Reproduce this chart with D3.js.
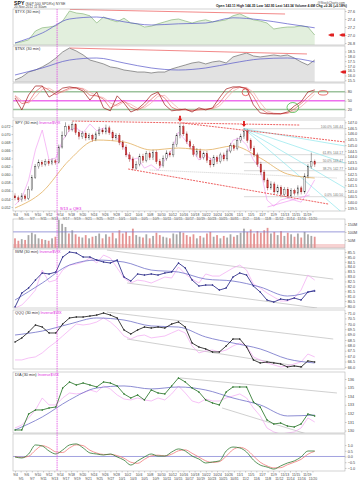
<!DOCTYPE html>
<html><head><meta charset="utf-8">
<script src="https://cdn.jsdelivr.net/npm/d3@7"></script>
<style>body{margin:0;background:#fff}svg{display:block}text{font-family:"Liberation Sans",Arial,sans-serif}</style>
</head><body>
<script>
// ---------------- DATA ----------------
const dates = ["9/4","9/5","9/6","9/7","9/10","9/11","9/12","9/13","9/14","9/17","9/18","9/19","9/20","9/21","9/24","9/25","9/26","9/27","9/28",
"10/1","10/2","10/3","10/4","10/5","10/8","10/9","10/10","10/11","10/12","10/15","10/16","10/17","10/18","10/19","10/22","10/23","10/24","10/25","10/26","10/31",
"11/1","11/2","11/5","11/6","11/7","11/8","11/9","11/12","11/13","11/14","11/15","11/16","11/19","11/20"];
const qe3Index = 12.5;

const spyOpen = [140.57,140.40,140.23,140.57,140.34,141.15,142.19,143.11,143.51,143.34,143.57,143.40,143.63,143.51,144.84,145.87,146.62,146.39,146.79,146.10,
145.76,146.05,145.64,145.87,145.53,145.99,146.33,146.16,146.51,146.10,145.64,145.87,145.24,144.84,144.15,143.80,143.00,143.34,144.03,143.68,
144.26,143.92,144.38,143.57,143.22,143.86,144.32,144.15,145.07,145.82,146.62,145.99,145.30,144.89,144.20,144.49,143.92,144.26,143.68,143.28,
143.92,143.57,144.15,143.80,144.49,144.95,144.72,145.41,145.76,146.22,145.41,144.72,144.15,143.34,142.65,141.96,141.27,141.61,140.92,141.32,
140.69,141.15,140.57,141.04,140.81,141.27,140.92,142.30,143.11,143.57];
const spyHigh = [140.80,140.60,140.82,140.74,141.40,142.40,143.35,143.75,143.70,143.80,143.78,143.85,143.80,145.05,146.20,147.00,146.80,147.05,146.95,146.30,
146.25,146.20,146.05,146.00,146.20,146.60,146.50,146.80,146.70,146.30,146.05,146.05,145.45,145.05,144.40,144.00,143.60,144.25,144.25,144.50,
144.45,144.60,144.55,143.80,144.10,144.55,144.50,145.30,146.05,146.95,146.80,146.20,145.50,145.10,144.75,144.70,144.45,144.50,143.90,144.15,
144.10,144.35,144.35,144.70,145.20,145.15,145.65,146.00,146.50,146.40,145.60,144.95,144.35,143.55,142.85,142.15,141.85,141.80,141.55,141.50,
141.35,141.35,141.25,141.20,141.50,141.45,142.55,143.35,144.35,143.75];
const spyLow = [140.18,140.02,140.06,140.15,140.20,141.00,142.05,142.95,143.10,143.15,143.20,143.25,143.30,143.40,144.70,145.70,146.15,146.20,145.90,145.50,
145.55,145.40,145.45,145.30,145.35,145.80,145.95,145.95,145.90,145.40,145.45,145.00,144.60,143.95,143.55,142.80,142.85,143.15,143.45,143.50,
143.70,143.70,143.35,143.00,143.05,143.65,143.95,143.95,144.85,145.60,145.80,145.10,144.65,144.00,144.00,143.70,143.75,143.45,143.05,143.10,
143.35,143.40,143.60,143.60,144.30,144.50,144.55,145.20,145.55,145.20,144.50,143.95,143.10,142.40,141.75,141.05,141.10,140.70,140.75,140.45,
140.50,140.35,140.40,140.60,140.60,140.70,140.75,142.10,142.95,143.10];
const spyClose = [140.40,140.23,140.57,140.34,141.15,142.19,143.11,143.51,143.34,143.57,143.40,143.63,143.51,144.84,145.87,146.62,146.39,146.79,146.10,145.76,
146.05,145.64,145.87,145.53,145.99,146.33,146.16,146.51,146.10,145.64,145.87,145.24,144.84,144.15,143.80,143.00,143.34,144.03,143.68,144.26,
143.92,144.38,143.57,143.22,143.86,144.32,144.15,145.07,145.82,146.62,145.99,145.30,144.89,144.20,144.49,143.92,144.26,143.68,143.28,143.92,
143.57,144.15,143.80,144.49,144.95,144.72,145.41,145.76,146.22,145.41,144.72,144.15,143.34,142.65,141.96,141.27,141.61,140.92,141.32,140.69,
141.15,140.57,141.04,140.81,141.27,140.92,142.30,143.11,143.57,143.34];
const spyMA = [139.51,140.91,143.71,145.45,145.28,144.58,144.75,144.58,144.93,143.88,142.48,142.13];
const invVixSpy = [0.0525,0.0542,0.0587,0.0661,0.0710,0.0636,0.0641,0.0685,0.0710,0.0715,0.0703,0.0725,0.0708,0.0715,0.0703,0.0690,0.0666,0.0636,0.0641,0.0616,
0.0624,0.0611,0.0636,0.0661,0.0705,0.0685,0.0661,0.0636,0.0648,0.0636,0.0641,0.0648,0.0685,0.0690,0.0673,0.0636,0.0616,0.0537,0.0522,0.0537,
0.0542,0.0537,0.0532,0.0557,0.0587];
const volume = [60,45,55,50,80,95,85,60,55,50,45,60,70,175,150,130,90,110,85,70,65,80,60,70,75,90,60,85,70,95,
60,110,90,100,75,120,80,70,65,85,60,75,95,80,70,65,60,90,85,100,95,80,70,85,60,75,65,90,100,70,
80,60,75,65,85,70,80,95,120,100,115,90,105,95,110,125,90,100,80,105,75,95,85,70,90,65,100,85,75,70];

const tyx = [26.80,26.83,26.88,27.10,27.18,27.20,27.23,27.35,27.60,27.55,27.53,27.48,27.30,27.45,27.38,27.33,27.42,27.30,27.28,27.20,
27.22,27.28,27.33,27.38,27.40,27.35,27.30,27.35,27.38,27.33,27.35,27.38,27.48,27.53,27.45,27.38,27.35,27.30,27.15,27.18,27.20,27.20,27.23,27.20,27.00];
const tyxMA = [26.80,27.05,27.40,27.45,27.33,27.25,27.28,27.30,27.43,27.38,27.28,27.18];
const tnx = [15.53,15.84,16.36,16.57,16.89,17.30,17.82,18.45,18.86,18.55,18.14,17.61,17.41,17.20,16.89,16.78,16.57,16.47,16.36,16.36,
16.26,16.36,16.36,16.68,16.89,17.09,17.30,17.41,17.20,17.41,17.51,17.30,17.93,18.14,18.34,18.03,17.93,18.03,18.14,18.03,18.14,17.82,17.41,17.09,17.61];
const tnxMA = [16.05,16.78,17.61,17.82,17.30,16.78,16.57,16.78,17.30,17.72,17.82,17.41];

const stochK = [59,19,69,99,99,62,76,92,96,92,82,52,79,26,16,66,42,12,22,42,69,79,36,16,19,22,12,26,19,26,59,89,96,96,89,36,9,6,6,6,12,32,46,79,86];
const stochD = [65,40,45,80,98,85,70,82,92,94,88,68,66,55,25,38,50,28,18,32,55,74,58,28,18,20,16,20,22,24,42,72,92,96,92,64,24,9,6,6,9,22,40,62,82];
const stochS = [68,50,42,62,88,92,78,78,88,93,91,78,66,60,42,32,46,38,24,26,42,65,68,44,24,19,18,18,20,22,32,56,82,94,94,78,44,16,8,6,7,15,30,50,72];

const iwm = [79.89,81.32,81.83,82.64,83.36,83.26,83.46,84.99,85.50,85.40,84.99,84.99,84.68,84.48,84.38,84.68,82.95,82.54,83.26,83.15,
83.26,83.15,83.36,83.46,84.38,83.87,82.64,82.03,82.13,82.13,81.62,81.83,82.95,83.36,83.15,82.03,81.42,80.60,80.40,80.70,80.60,80.81,80.60,81.42,81.52];
const iwmMA = [80.60,82.34,84.17,84.68,84.48,83.66,83.46,82.74,82.54,81.93,81.01,81.62];
const iwmVix = [79.79,80.09,80.81,81.62,83.66,82.44,82.64,83.66,84.17,84.28,84.48,84.89,84.38,85.19,84.89,83.87,82.85,82.34,82.64,82.54,
82.34,82.64,82.95,82.85,83.97,83.26,82.74,82.34,83.26,83.05,83.05,83.46,83.87,84.17,83.66,82.23,81.83,81.32,80.91,80.50,80.50,80.81,81.62,83.15,82.64];

const qqq = [68.31,68.69,69.24,69.89,69.70,69.15,69.15,69.98,70.54,70.63,70.63,70.72,70.81,71.00,70.81,70.54,69.43,69.06,69.43,69.70,
69.61,69.70,69.61,69.98,70.17,69.70,68.22,67.85,67.67,67.39,67.39,67.94,68.59,68.59,67.85,66.65,66.37,66.46,66.37,66.28,66.00,66.09,66.00,66.56,66.46];
const qqqMA = [68.96,69.33,69.98,70.54,70.35,69.80,69.70,68.78,68.22,67.67,66.74,66.37];
const qqqVix = [66.65,66.65,66.83,66.93,67.30,67.85,68.31,68.87,69.43,69.98,69.89,69.98,70.17,70.54,70.17,69.61,68.87,68.59,68.87,68.96,
68.69,68.78,68.87,69.15,69.43,69.15,67.94,67.30,67.48,67.57,67.39,67.57,67.94,68.22,67.94,66.93,66.65,66.37,66.19,66.00,66.09,66.28,66.46,67.20,66.93];

const dia = [130.07,130.07,131.93,132.40,132.40,132.63,132.74,134.95,135.65,135.30,135.53,135.30,135.07,135.65,135.53,135.19,134.26,133.79,134.14,133.56,
134.72,134.37,134.26,135.19,136.12,135.65,134.95,134.49,133.56,133.21,132.98,134.49,135.07,135.07,135.07,133.33,132.74,131.23,130.77,130.88,130.53,130.42,130.77,131.93,131.70];
const diaMA = [130.07,131.58,133.56,134.95,135.19,134.84,135.07,134.72,133.79,132.98,131.70,131.81];
const diaVix = [130.30,130.65,131.47,132.40,133.79,132.98,132.98,133.79,134.37,134.26,134.37,134.72,134.49,135.19,134.84,134.14,133.67,133.56,133.79,133.56,
133.44,133.79,133.56,134.26,135.19,134.37,133.44,133.21,133.67,133.44,133.44,133.79,134.02,134.26,133.79,132.63,131.70,130.30,129.84,129.60,129.72,129.84,130.30,131.47,131.00];

const macd = [-0.04,-0.13,0.22,1.01,0.92,0.48,0.22,0.57,1.01,1.10,0.75,0.31,0.22,0.13,0.22,-0.04,-0.31,-0.75,-0.39,-0.04,
0.22,0.04,0.04,0.39,0.66,0.48,0.04,-0.22,-0.57,-0.48,-0.39,0.48,0.83,0.75,0.39,-0.31,-0.75,-0.92,-1.10,-0.83,-0.57,-0.39,-0.04,0.48,0.48];
const macdSignal = [-0.02,-0.08,0.02,0.55,0.95,0.75,0.40,0.35,0.75,1.02,0.95,0.55,0.30,0.18,0.18,0.08,-0.15,-0.50,-0.60,-0.25,
0.05,0.12,0.05,0.20,0.50,0.58,0.28,-0.05,-0.38,-0.52,-0.45,0.02,0.60,0.80,0.60,0.05,-0.50,-0.82,-1.00,-0.98,-0.72,-0.50,-0.25,0.20,0.45];

// annotations (index, value pairs)
const tyxTrend = [16.3,27.64,80.2,27.525];
const tnxTrend = [16.3,18.86,86.7,18.24];
const spyTrends = [[17,147.11,84.6,146.76],[49.6,146.94,98,145.28],[33.6,142.92,93,139.86]];
const spyDotted = [40,142.83,95.6,142.13];
const fanOrigin = [68,146.44];
const fanEnds = [144.93,143.44,141.26,138.9];
const fibPct = [100,61.8,50,38.2,0];
const fibPrice = [146.44,144.17,143.47,142.77,140.50];
const spyMagenta = [75,139.6,87.5,140.65];
const arrowBars = [49,68];
const iwmChannel = [[27.3,85.7,94.5,82.74],[33.3,82.34,89.7,79.79]];
const qqqChannel = [[27.3,71.09,94.5,68.59],[33.3,68.59,85.5,66.0]];
const diaChannel = [[49,136.12,95.6,134.37],[61.5,132.63,87.6,129.49]];

// tick labels
const tyxTicks = [26.8,27.0,27.2,27.4,27.6];
const tnxTicks = [15.5,16.0,16.5,17.0,17.5,18.0,18.5];
const stochTicks = [20,50,80];
const spyTicks = [139.5,140.0,140.5,141.0,141.5,142.0,142.5,143.0,143.5,144.0,144.5,145.0,145.5,146.0,146.5,147.0];
const vixTicks = [0.052,0.054,0.056,0.058,0.060,0.062,0.064,0.066,0.068,0.070,0.072];
const volTicks = [50,100,150];
const iwmTicks = [80.0,80.5,81.0,81.5,82.0,82.5,83.0,83.5,84.0,84.5,85.0,85.5];
const qqqTicks = [66.0,66.5,67.0,67.5,68.0,68.5,69.0,69.5,70.0,70.5,71.0];
const diaTicks = [130,131,132,133,134,135,136];
const macdTicks = [-1.0,-0.5,0.0,0.5,1.0];

// ---------------- DRAW ----------------
const svg = d3.select("body").append("svg").attr("width",360).attr("height",480);
svg.append("rect").attr("width",360).attr("height",480).attr("fill","#fff");
const xL = 13, xR = 345;
const x = d3.scaleLinear().domain([0,98]).range([15,345]);
const jx = j => x(j*89/44);
const kx = k => x(k*89/11);

function panel(top,bottom,domain){
  const y = d3.scaleLinear().domain(domain).range([bottom,top]);
  const id = "cp"+Math.round(top);
  svg.append("clipPath").attr("id",id).append("rect").attr("x",xL).attr("y",top).attr("width",xR-xL).attr("height",bottom-top);
  const g = svg.append("g").attr("clip-path",`url(#${id})`);
  svg.append("rect").attr("x",xL).attr("y",top).attr("width",xR-xL).attr("height",bottom-top)
     .attr("fill","none").attr("stroke","#b5b5b5").attr("stroke-width",0.6);
  return {y,g,top,bottom};
}
function rightAxis(p,ticks,fmt){
  const a = svg.append("g").attr("transform",`translate(${xR},0)`)
    .call(d3.axisRight(p.y).tickValues(ticks).tickSize(1.5).tickPadding(1.2).tickFormat(fmt));
  a.select(".domain").remove();
  a.selectAll("text").attr("font-size",3.8).attr("fill","#444").attr("font-family","Liberation Sans, Arial");
  a.selectAll("line").attr("stroke","#999").attr("stroke-width",0.5);
}
function line(g,data,xf,y,color,w,curve){
  g.append("path").datum(data)
   .attr("d",d3.line().x((d,i)=>xf(i)).y(d=>y(d)).curve(curve||d3.curveLinear))
   .attr("fill","none").attr("stroke",color).attr("stroke-width",w).attr("stroke-linejoin","round");
}
function dots(g,data,xf,y,color){
  g.selectAll(null).data(data).enter().append("circle")
   .attr("cx",(d,i)=>xf(i)).attr("cy",d=>y(d)).attr("r",0.75).attr("fill",color);
}
function seg(g,y,s,color,w,dash){
  const l = g.append("line").attr("x1",x(s[0])).attr("y1",y(s[1])).attr("x2",x(s[2])).attr("y2",y(s[3]))
    .attr("stroke",color).attr("stroke-width",w);
  if(dash) l.attr("stroke-dasharray",dash);
}
function label(p,parts){
  let t = svg.append("text").attr("x",15).attr("y",p.top+4.4).attr("font-size",3.9);
  parts.forEach(([s,c])=>t.append("tspan").text(s).attr("fill",c));
}
function dateAxis(yTop){
  [0,1].forEach(r=>{
    const vals = dates.map((d,i)=>i).filter(i=>i%2===r).map(i=>i*5/3);
    const a = svg.append("g").attr("transform",`translate(0,${yTop})`)
      .call(d3.axisBottom(x).tickValues(vals).tickSize(1.5).tickPadding(r?4.6:0.8)
        .tickFormat(v=>dates[Math.round(v*3/5)]));
    a.select(".domain").remove();
    a.selectAll("text").attr("font-size",3.4).attr("fill","#444").attr("font-family","Liberation Sans, Arial");
    a.selectAll("line").attr("stroke","#888").attr("stroke-width",0.4);
  });
}

// header
const h1 = svg.append("text").attr("x",14).attr("y",4.6);
h1.append("tspan").text("SPY").attr("font-size",5.2).attr("font-weight","bold").attr("fill","#111");
h1.append("tspan").text(" (S&P 500 SPDRs) NYSE").attr("font-size",3.6).attr("fill","#444");
svg.append("text").attr("x",14).attr("y",8.2).attr("font-size",3.3).attr("fill","#444").text("20-Nov-2012 11:30am");
svg.append("text").attr("x",345).attr("y",3.6).attr("font-size",3.2).attr("fill","#555").attr("text-anchor","end").text("@StockCharts.com");
svg.append("text").attr("x",347).attr("y",7.4).attr("font-size",3.4).attr("fill","#222").attr("font-weight","bold").attr("text-anchor","end")
  .text("Open 143.11 High 144.35 Low 142.95 Last 143.34 Volume 4.6M Chg +0.26 (+0.18%)");

// panel 1: $TYX
const p1 = panel(9,45,[26.75,27.65]);
p1.g.append("path").datum(tyx).attr("d",d3.area().x((d,i)=>jx(i)).y0(45).y1(d=>p1.y(d))).attr("fill","#e2efdd");
line(p1.g,tyx,jx,p1.y,"#78ad6a",0.6);
line(p1.g,tyxMA,kx,p1.y,"#5656c8",0.7,d3.curveMonotoneX);
seg(p1.g,p1.y,tyxTrend,"#f07a7a",0.9);
rightAxis(p1,tyxTicks,d3.format(".1f"));
label(p1,[["$TYX (30 min)","#333"]]);

// panel 2: $TNX
const p2 = panel(46,82,[15.32,19.07]);
p2.g.append("path").datum(tnx).attr("d",d3.area().x((d,i)=>jx(i)).y0(82).y1(d=>p2.y(d))).attr("fill","#e2e2e2");
line(p2.g,tnx,jx,p2.y,"#555",0.6);
line(p2.g,tnxMA,kx,p2.y,"#5656c8",0.7,d3.curveMonotoneX);
seg(p2.g,p2.y,tnxTrend,"#f07a7a",0.9);
rightAxis(p2,tnxTicks,d3.format(".1f"));
label(p2,[["$TNX (30 min)","#333"]]);

// red last-value tags
[[331,35],[342,35],[343,72]].forEach(([tx,ty])=>{
  svg.append("path").attr("d",`M${tx-3},${ty} L${tx},${ty-1.6} L${tx+3},${ty-1.6} L${tx+3},${ty+1.6} L${tx},${ty+1.6}Z`).attr("fill","#e02020");
});

// panel 3: stochastic
const p3 = panel(83,118,[-8,109]);
[[80,"#9cc29c"],[20,"#9cc29c"],[50,"#ee70ee"]].forEach(([v,c])=>
  p3.g.append("line").attr("x1",xL).attr("x2",xR).attr("y1",p3.y(v)).attr("y2",p3.y(v)).attr("stroke",c).attr("stroke-width",1.5));
line(p3.g,stochS,jx,p3.y,"#f2a6a6",0.7);
line(p3.g,stochD,jx,p3.y,"#e25a5a",0.7);
line(p3.g,stochK,jx,p3.y,"#a01818",0.7);
rightAxis(p3,stochTicks,d3.format("d"));
svg.append("ellipse").attr("cx",x(68.5)).attr("cy",p3.y(78)).attr("rx",3.6).attr("ry",3.4).attr("fill","none").attr("stroke","#e03030").attr("stroke-width",0.7);
svg.append("ellipse").attr("cx",x(91.5)).attr("cy",p3.y(76)).attr("rx",4.8).attr("ry",2.2).attr("fill","none").attr("stroke","#e03030").attr("stroke-width",0.7);
svg.append("ellipse").attr("cx",x(82.5)).attr("cy",p3.y(27)).attr("rx",5.8).attr("ry",5).attr("fill","none").attr("stroke","#30b030").attr("stroke-width",0.7);

// panel 4: SPY candles
const p4 = panel(120,211,[139.25,147.2]);
const yv = d3.scaleLinear().domain([0.05101,0.07348]).range([211,120]);
fibPrice.forEach(pr=>{
  p4.g.append("line").attr("x1",x(fanOrigin[0])).attr("x2",xR).attr("y1",p4.y(pr)).attr("y2",p4.y(pr)).attr("stroke","#b4b4b4").attr("stroke-width",0.5);
});
fanEnds.forEach(v=>seg(p4.g,p4.y,[fanOrigin[0],fanOrigin[1],98,v],"#8fe6ec",0.7));
seg(p4.g,p4.y,spyDotted,"#aaa",0.6,"1,1");
line(p4.g,invVixSpy,jx,yv,"#f2a0f2",0.7);
seg(p4.g,p4.y,spyMagenta,"#ee88ee",0.6);
line(p4.g,spyMA,kx,p4.y,"#e5b870",0.9,d3.curveMonotoneX);
spyTrends.forEach(s=>seg(p4.g,p4.y,s,"#e83a3a",0.8,"2,1"));
spyClose.forEach((c,i)=>{
  const o = spyOpen[i], up = c>=o;
  const col = up ? "#222" : "#8c1414";
  p4.g.append("line").attr("x1",x(i)).attr("x2",x(i)).attr("y1",p4.y(spyHigh[i])).attr("y2",p4.y(spyLow[i])).attr("stroke",col).attr("stroke-width",0.4);
  const yt = p4.y(Math.max(o,c)), yb = p4.y(Math.min(o,c));
  p4.g.append("rect").attr("x",x(i)-0.7).attr("y",yt).attr("width",1.4).attr("height",Math.max(0.6,yb-yt))
    .attr("fill",up?"#f6f6f6":"#d83a3a").attr("stroke",col).attr("stroke-width",0.35);
});
fibPrice.forEach((pr,k)=>{
  svg.append("text").attr("x",343).attr("y",p4.y(pr)-0.8).attr("text-anchor","end").attr("font-size",3.3).attr("fill","#777")
    .text(`${fibPct[k].toFixed(1)}% ${pr.toFixed(2)}`);
});
arrowBars.forEach(i=>{
  const ax = x(i), ay = p4.y(spyHigh[i]) - 1;
  svg.append("path").attr("d",`M${ax-0.9},${ay-6} L${ax+0.9},${ay-6} L${ax+0.9},${ay-3} L${ax+2.2},${ay-3} L${ax},${ay} L${ax-2.2},${ay-3} L${ax-0.9},${ay-3}Z`).attr("fill","#e01818");
});
rightAxis(p4,spyTicks,d3.format(".1f"));
{
  const a = svg.append("g").attr("transform",`translate(${xL},0)`)
    .call(d3.axisLeft(yv).tickValues(vixTicks).tickSize(1.5).tickPadding(1).tickFormat(d3.format(".3f")));
  a.select(".domain").remove();
  a.selectAll("text").attr("font-size",3.6).attr("fill","#444").attr("font-family","Liberation Sans, Arial");
  a.selectAll("line").attr("stroke","#999").attr("stroke-width",0.5);
}
label(p4,[["SPY (30 min) ","#333"],["Inverse$VIX","#e030e0"]]);
svg.append("text").attr("x",60).attr("y",209.5).attr("font-size",4.2).attr("fill","#e020e0").text("9/13 = QE3");
dateAxis(211);

// panel 5: volume
const p5 = panel(219,248,[0,180]);
p5.g.append("rect").attr("x",xL).attr("y",244).attr("width",xR-xL).attr("height",4).attr("fill","#f7d2d2");
volume.forEach((v,i)=>{
  const up = spyClose[i]>=spyOpen[i];
  p5.g.append("rect").attr("x",x(i)-0.9).attr("width",1.8).attr("y",p5.y(v)).attr("height",248-p5.y(v))
    .attr("fill",up?"#a8a8a8":"#e49494");
});
p5.g.append("line").attr("x1",xL).attr("x2",xR).attr("y1",p5.y(100)).attr("y2",p5.y(100)).attr("stroke","#8080d0").attr("stroke-width",0.8);
rightAxis(p5,volTicks,d=>d+"M");

// panel 6: IWM
const p6 = panel(249,308,[79.79,85.81]);
iwmChannel.forEach(s=>seg(p6.g,p6.y,s,"#bcbcbc",0.7));
line(p6.g,iwmVix,jx,p6.y,"#f2a6f2",0.7);
line(p6.g,iwmMA,kx,p6.y,"#7070c8",0.8,d3.curveMonotoneX);
line(p6.g,iwm,jx,p6.y,"#1c1c80",0.8);
dots(p6.g,iwm,jx,p6.y,"#1c1c80");
rightAxis(p6,iwmTicks,d3.format(".1f"));
label(p6,[["IWM (30 min) ","#333"],["Inverse$VIX","#e030e0"]]);

// panel 7: QQQ
const p7 = panel(310,369,[65.81,71.28]);
qqqChannel.forEach(s=>seg(p7.g,p7.y,s,"#bcbcbc",0.7));
line(p7.g,qqqVix,jx,p7.y,"#f2a6f2",0.7);
line(p7.g,qqqMA,kx,p7.y,"#7070c8",0.8,d3.curveMonotoneX);
line(p7.g,qqq,jx,p7.y,"#111",0.8);
dots(p7.g,qqq,jx,p7.y,"#111");
rightAxis(p7,qqqTicks,d3.format(".1f"));
label(p7,[["QQQ (30 min) ","#333"],["Inverse$VIX","#e030e0"]]);

// panel 8: DIA
const p8 = panel(372,433,[129.72,136.81]);
diaChannel.forEach(s=>seg(p8.g,p8.y,s,"#bcbcbc",0.7));
line(p8.g,diaVix,jx,p8.y,"#f2a6f2",0.7);
line(p8.g,diaMA,kx,p8.y,"#7070c8",0.8,d3.curveMonotoneX);
line(p8.g,dia,jx,p8.y,"#1e6e1e",0.8);
dots(p8.g,dia,jx,p8.y,"#1e6e1e");
rightAxis(p8,diaTicks,d3.format("d"));
label(p8,[["DIA (30 min) ","#333"],["Inverse$VIX","#e030e0"]]);

// panel 9: MACD-like
const p9 = panel(434,471,[-1.27,1.97]);
p9.g.append("line").attr("x1",xL).attr("x2",xR).attr("y1",p9.y(0)).attr("y2",p9.y(0)).attr("stroke","#8c8cd8").attr("stroke-width",0.8);
line(p9.g,macdSignal,jx,p9.y,"#f07a7a",0.8,d3.curveMonotoneX);
line(p9.g,macd,jx,p9.y,"#2e7a32",0.8,d3.curveMonotoneX);
rightAxis(p9,macdTicks,d3.format(".1f"));
dateAxis(471);

// QE3 vertical marker
svg.append("line").attr("x1",x(qe3Index)).attr("x2",x(qe3Index)).attr("y1",9).attr("y2",471)
  .attr("stroke","#e030e0").attr("stroke-width",0.7).attr("stroke-dasharray","1.5,0.8");
</script>
</body></html>
